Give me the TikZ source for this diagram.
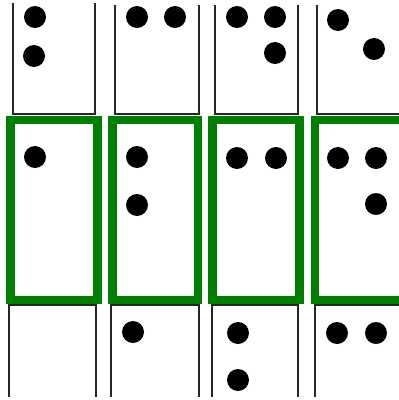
\documentclass[tikz,border=0pt]{standalone}
\usepackage{tikz}

\begin{document}
\begin{tikzpicture}[
  x=1pt, y=-1pt,
  cell/.style={draw=black!85, line width=1.8pt},
  hit/.style={draw=braillegreen, line width=8.5pt},
  dot/.style={fill=black}
]
\definecolor{braillegreen}{RGB}{0,128,0}
\useasboundingbox (0,0) rectangle (399,400);

% Obere Zeile - offene Zellen
\draw[cell] (13,3) -- (13,114) -- (95,114) -- (95,3);
\draw[cell] (115,5) -- (115,114) -- (199,114) -- (199,5);
\draw[cell] (215,5) -- (215,114) -- (298,114) -- (298,5);
\draw[cell] (317,5) -- (317,114) -- (401,114);
\fill[dot] (35,17) circle (11);
\fill[dot] (34,56) circle (11);
\fill[dot] (137,17) circle (11);
\fill[dot] (175,17) circle (11);
\fill[dot] (237,17) circle (11);
\fill[dot] (275,17) circle (11);
\fill[dot] (275,53) circle (11);
\fill[dot] (338,20) circle (11);
\fill[dot] (374,49) circle (11);

% Mittlere Zeile - gruene Rahmen
\draw[hit] (10.5,120) rectangle (97.5,300);
\draw[hit] (112.5,120) rectangle (198,300);
\draw[hit] (212.5,120) rectangle (299.5,300);
\draw[hit] (315,120) rectangle (412,300);
\fill[dot] (35,157) circle (11);
\fill[dot] (137,157) circle (11);
\fill[dot] (137,205) circle (11);
\fill[dot] (237,158) circle (11);
\fill[dot] (276,158) circle (11);
\fill[dot] (338,158) circle (11);
\fill[dot] (376,158) circle (11);
\fill[dot] (376,204) circle (11);

% Untere Zeile - offene Zellen
\draw[cell] (9,397) -- (9,305) -- (96,305) -- (96,397);
\draw[cell] (111,397) -- (111,305) -- (199,305) -- (199,397);
\draw[cell] (212,397) -- (212,305) -- (298,305) -- (298,397);
\draw[cell] (315,397) -- (315,305) -- (401,305);
\fill[dot] (133,332) circle (11);
\fill[dot] (238,333) circle (11);
\fill[dot] (238,380) circle (11);
\fill[dot] (337,333) circle (11);
\fill[dot] (376,333) circle (11);
\end{tikzpicture}
\end{document}
